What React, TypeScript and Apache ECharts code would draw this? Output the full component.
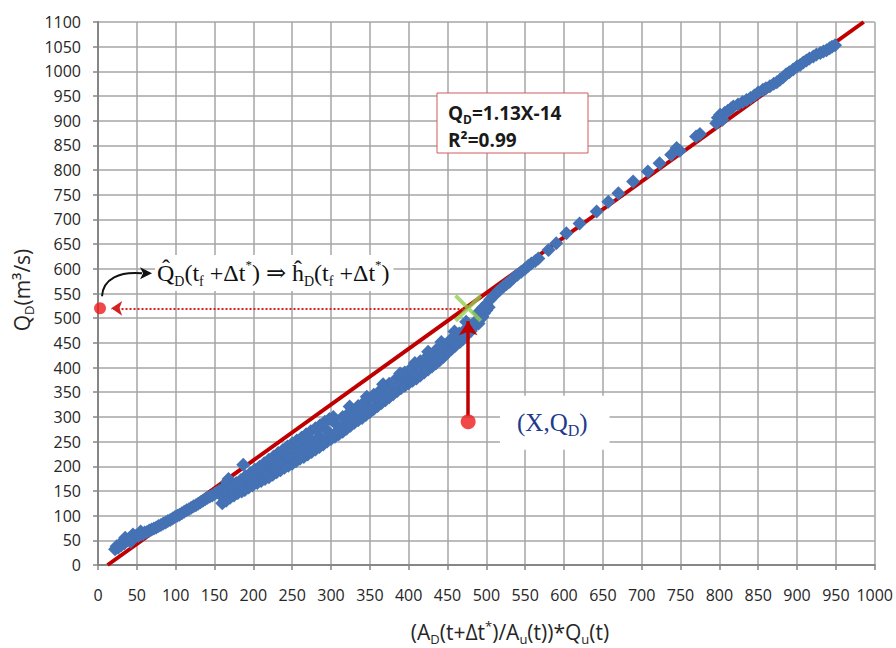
import React, { useEffect, useRef } from "react";
import * as echarts from "echarts";

// Axis ranges / ticks
const X_MIN = 0;
const X_MAX = 1000;
const X_STEP = 50;
const Y_MIN = 0;
const Y_MAX = 1100;
const Y_STEP = 50;

// Regression Q_D = 1.13 X - 14
const FIT_SLOPE = 1.13;
const FIT_INTERCEPT = -14;

// Observed points (X, Q_D), by portion of the cloud
const segLowerLeft: [number, number][] = [
  [22, 32], [24, 38], [26, 35], [28, 42], [30, 40], [32, 46], [34, 44], [35, 55], [36, 49], [38, 50],
  [40, 53], [42, 47], [42, 52], [44, 56], [45, 62], [46, 55], [48, 58], [50, 60], [52, 59], [55, 62],
  [55, 68], [58, 63], [60, 66], [63, 67], [66, 70], [69, 72], [72, 74], [75, 76], [78, 79], [81, 81],
  [84, 84], [87, 86], [90, 89], [93, 91], [96, 94], [99, 97], [102, 100], [105, 102], [108, 105], [111, 108],
  [114, 111], [117, 113], [120, 116], [123, 119], [126, 121], [129, 124], [132, 127], [135, 130], [138, 133],
  [141, 136], [144, 139], [147, 141], [150, 144], [153, 147], [156, 150], [159, 152],
];
const segBreak: [number, number][] = [
  [160, 125], [162, 135], [160, 145], [163, 150], [164, 158], [166, 168], [168, 174], [187, 203],
];
const segUpper: [number, number][] = [
  [172, 160], [178, 166], [184, 172], [190, 180], [196, 186], [202, 193], [208, 199], [214, 206], [220, 213],
  [226, 220], [232, 227], [238, 233], [244, 240], [250, 246], [256, 252], [262, 258], [268, 265], [274, 271],
  [280, 277], [286, 283], [292, 290], [298, 296], [303, 300], [324, 321], [346, 341], [367, 366], [389, 388],
  [408, 409], [425, 432], [442, 452], [459, 473], [474, 493], [490, 512],
];
const segMiddle: [number, number][] = [
  [175, 152], [185, 162], [195, 172], [205, 182], [215, 190], [225, 200], [235, 210], [245, 220], [255, 230],
  [265, 240], [275, 250], [285, 260], [295, 272], [305, 288], [315, 300], [325, 311], [335, 322], [345, 333],
  [355, 345], [365, 356], [375, 367], [385, 379], [395, 390], [405, 401], [415, 413], [425, 424], [435, 435],
  [445, 446], [455, 458], [465, 469], [475, 480], [485, 492], [495, 503],
];
const segMiddleLow: [number, number][] = [
  [180, 147], [190, 156], [200, 165], [210, 174], [220, 182], [230, 192], [240, 201], [250, 211], [260, 220],
  [270, 230], [280, 240], [290, 250], [300, 261], [310, 274], [320, 285], [330, 297], [340, 308], [350, 319],
  [360, 331], [370, 342], [380, 354], [390, 366], [400, 377], [410, 387], [420, 399], [430, 410], [440, 422],
  [450, 434], [460, 448], [470, 460], [480, 474], [490, 489],
];
const segLower: [number, number][] = [
  [165, 130], [170, 136], [175, 141], [180, 146], [185, 149], [189, 152], [194, 157], [199, 161], [205, 166],
  [210, 170], [215, 174], [220, 178], [225, 183], [230, 188], [235, 192], [240, 197], [245, 201], [250, 205],
  [255, 210], [260, 215], [265, 219], [270, 224], [275, 229], [280, 234], [285, 239], [290, 244], [295, 250],
  [300, 255], [305, 260], [310, 265], [315, 270], [320, 276], [325, 282], [330, 288], [335, 293], [340, 298],
  [345, 304], [350, 310], [355, 316], [360, 322], [365, 328], [370, 334], [375, 340], [380, 346], [385, 352],
  [390, 358], [395, 363], [400, 368], [405, 373], [410, 378], [415, 384], [420, 390], [425, 396], [430, 402],
  [435, 408], [440, 415], [445, 422], [450, 430], [455, 437], [460, 444], [466, 452], [470, 458], [474, 465],
  [478, 472], [482, 480], [486, 487], [490, 495], [494, 502], [497, 510], [500, 516], [503, 522],
];
const segUpperRight: [number, number][] = [
  [495, 520], [500, 528], [505, 538], [510, 546], [514, 553], [518, 558], [522, 564], [526, 569], [530, 574],
  [535, 582], [540, 588], [545, 594], [550, 600], [554, 606], [558, 611], [563, 616], [567, 621], [580, 638],
  [590, 652], [603, 672], [620, 692], [642, 716], [657, 736], [670, 753], [689, 777], [708, 797], [723, 814],
  [738, 831], [745, 845], [749, 839], [770, 868], [775, 873],
];
const segTop: [number, number][] = [
  [796, 895], [798, 906], [801, 912], [804, 902], [807, 916], [811, 920], [815, 925], [818, 929], [824, 933],
  [830, 938], [835, 942], [840, 946], [845, 951], [850, 957], [856, 963], [860, 966], [865, 970], [870, 975],
  [874, 978], [878, 983], [882, 988], [886, 994], [890, 998], [895, 1004], [900, 1010], [904, 1013], [908, 1018],
  [912, 1022], [916, 1026], [921, 1030], [925, 1034], [930, 1037], [934, 1040], [938, 1043], [942, 1047],
  [945, 1050], [949, 1053],
];

// Annotation points (data coordinates)
const estimatePoint: [number, number] = [476.6, 520]; // green cross
const inputPoint: [number, number] = [476.6, 290]; // (X, Q_D) red dot
const projectedPoint: [number, number] = [2.6, 520]; // red dot on the Q_D axis
const dottedArrowTipX = 17;
const verticalArrowTopY = 494;
const verticalArrowBottomY = 302;

const SANS = "'Open Sans', 'Noto Sans', sans-serif";
const SERIF = "'Liberation Serif', 'DejaVu Serif', serif";

export default function App() {
  const ref = useRef<HTMLDivElement>(null);

  useEffect(() => {
    const el = ref.current as HTMLDivElement;
    const chart = echarts.init(el, null, { renderer: "svg" });

    const observed = [
      ...segLowerLeft,
      ...segBreak,
      ...segLower,
      ...segMiddleLow,
      ...segMiddle,
      ...segUpper,
      ...segUpperRight,
      ...segTop,
    ];
    const fitX0 = (Y_MIN - FIT_INTERCEPT) / FIT_SLOPE;
    const fitX1 = (Y_MAX - FIT_INTERCEPT) / FIT_SLOPE;

    const axisLabel = {
      color: "#262626",
      fontFamily: SANS,
      fontSize: 16,
      formatter: (v: number) => String(v),
    };

    chart.setOption({
      animation: false,
      backgroundColor: "#ffffff",
      grid: { left: 98, right: 21, top: 22, bottom: 83 },
      xAxis: {
        type: "value",
        min: X_MIN,
        max: X_MAX,
        interval: X_STEP,
        axisLine: { show: true, onZero: false, lineStyle: { color: "#868686", width: 2 } },
        axisTick: { show: true, length: 5, lineStyle: { color: "#868686", width: 1.5 } },
        axisLabel: { ...axisLabel, margin: 22 },
        splitLine: { show: true, lineStyle: { color: "#a6a6a6", width: 1.5 } },
      },
      yAxis: {
        type: "value",
        min: Y_MIN,
        max: Y_MAX,
        interval: Y_STEP,
        axisLine: { show: true, onZero: false, lineStyle: { color: "#868686", width: 2 } },
        axisTick: { show: true, length: 5, lineStyle: { color: "#868686", width: 1.5 } },
        axisLabel: { ...axisLabel, margin: 17 },
        splitLine: { show: true, lineStyle: { color: "#a6a6a6", width: 1.5 } },
      },
      series: [
        {
          name: "fit",
          type: "line",
          data: [
            [fitX0, Y_MIN],
            [fitX1, Y_MAX],
          ],
          symbol: "none",
          lineStyle: { color: "#c00000", width: 4 },
          silent: true,
          z: 2,
        },
        {
          name: "observed",
          type: "scatter",
          data: observed,
          symbol: "diamond",
          symbolSize: 14,
          itemStyle: { color: "#4472b4", opacity: 1 },
          silent: true,
          z: 3,
        },
        {
          name: "arrows",
          type: "scatter",
          data: [
            { value: projectedPoint, symbolSize: 12 },
            { value: inputPoint, symbolSize: 15 },
          ],
          symbol: "circle",
          itemStyle: { color: "#ee1c1c" },
          silent: true,
          z: 5,
          markLine: {
            silent: true,
            animation: false,
            label: { show: false },
            emphasis: { disabled: true },
            symbol: ["none", "arrow"],
            data: [
              [
                {
                  coord: [estimatePoint[0] - 6, estimatePoint[1]],
                  symbol: "none",
                  lineStyle: { type: "dotted", width: 2, color: "#d42020" },
                },
                { coord: [dottedArrowTipX, estimatePoint[1]], symbol: "arrow", symbolSize: 11 },
              ],
              [
                {
                  coord: [inputPoint[0], verticalArrowBottomY],
                  symbol: "none",
                  lineStyle: { type: "solid", width: 3.5, color: "#c00000" },
                },
                { coord: [inputPoint[0], verticalArrowTopY], symbol: "arrow", symbolSize: 14 },
              ],
            ],
          },
        },
        {
          name: "estimate",
          type: "scatter",
          data: [estimatePoint],
          symbol:
            "path://M0,2 L2,0 L10,8 L18,0 L20,2 L12,10 L20,18 L18,20 L10,12 L2,20 L0,18 L8,10 Z",
          symbolSize: 28,
          itemStyle: { color: "#92d050" },
          silent: true,
          z: 6,
        },
      ],
    });

    const toPx = (p: [number, number]) =>
      chart.convertToPixel({ gridIndex: 0 }, p) as unknown as number[];
    const d = toPx(projectedPoint);
    const inp = toPx(inputPoint);

    const sub = (size: number, family: string, color: string, weight = "normal") => ({
      fontSize: size,
      fontFamily: family,
      fill: color,
      color,
      fontWeight: weight,
      lineHeight: size,
      verticalAlign: "bottom",
    });
    const sup = (size: number, family: string, color: string, weight = "normal") => ({
      fontSize: size,
      fontFamily: family,
      fill: color,
      color,
      fontWeight: weight,
      lineHeight: size,
      verticalAlign: "top",
    });
    const main = (size: number, family: string, color: string, lh: number, weight = "normal") => ({
      fontSize: size,
      fontFamily: family,
      fill: color,
      color,
      fontWeight: weight,
      lineHeight: lh,
      verticalAlign: "middle",
    });

    chart.setOption({
      graphic: [
        // y axis name
        {
          type: "text",
          x: 22,
          y: 290,
          rotation: Math.PI / 2,
          silent: true,
          style: {
            text: "{n|Q}{s|D}{n|(m³/s)}",
            align: "center",
            verticalAlign: "middle",
            textAlign: "center",
            textVerticalAlign: "middle",
            rich: {
              n: main(21, SANS, "#262626", 26),
              s: sub(13, SANS, "#262626"),
            },
          },
        },
        // x axis name
        {
          type: "text",
          x: 510,
          y: 632,
          silent: true,
          style: {
            text: "{n|(A}{s|D}{n|(t+Δt}{p|*}{n|)/A}{s|u}{n|(t))*Q}{s|u}{n|(t)}",
            align: "center",
            verticalAlign: "middle",
            textAlign: "center",
            textVerticalAlign: "middle",
            rich: {
              n: main(21, SANS, "#262626", 26),
              s: sub(13, SANS, "#262626"),
              p: sup(13, SANS, "#262626"),
            },
          },
        },
        // regression box frame
        {
          type: "rect",
          silent: true,
          z: 10,
          shape: { x: 437, y: 93, width: 151, height: 60 },
          style: { fill: "#ffffff", stroke: "#d05a5a", lineWidth: 1 },
        },
        {
          type: "text",
          x: 448,
          y: 113,
          silent: true,
          z: 11,
          style: {
            text: "{b|Q}{s|D}{b|=1.13X-14}",
            align: "left",
            verticalAlign: "middle",
            textAlign: "left",
            textVerticalAlign: "middle",
            rich: {
              b: main(19, SANS, "#1a1a1a", 24, "bold"),
              s: sub(12, SANS, "#1a1a1a", "bold"),
            },
          },
        },
        {
          type: "text",
          x: 448,
          y: 140,
          silent: true,
          z: 11,
          style: {
            text: "R²=0.99",
            align: "left",
            verticalAlign: "middle",
            textAlign: "left",
            textVerticalAlign: "middle",
            fontSize: 19,
            fontFamily: SANS,
            fontWeight: "bold",
            fill: "#1a1a1a",
          },
        },
        // formula text
        {
          type: "text",
          x: 155,
          y: 273,
          silent: true,
          z: 10,
          style: {
            text:
              "{m|Q\u0302}{s|D}{m|(t}{s|f}{m| +Δt}{p|*}{m|) ⇒ ĥ}{s|D}{m|(t}{s|f}{m| +Δt}{p|*}{m|)}",
            align: "left",
            verticalAlign: "middle",
            textAlign: "left",
            textVerticalAlign: "middle",
            backgroundColor: "#ffffff",
            padding: [3, 4, 3, 2],
            rich: {
              m: main(24, SERIF, "#111111", 30),
              s: sub(14, SERIF, "#111111"),
              p: sup(13, SERIF, "#111111"),
            },
          },
        },
        // (X,Q_D) label
        {
          type: "text",
          x: 500,
          y: inp[1] + 1,
          silent: true,
          z: 10,
          style: {
            text: "{m|(X,Q}{s|D}{m|)}",
            align: "left",
            verticalAlign: "middle",
            textAlign: "left",
            textVerticalAlign: "middle",
            backgroundColor: "#ffffff",
            padding: [11, 22, 11, 17],
            rich: {
              m: main(25, SERIF, "#233a8c", 32),
              s: sub(16, SERIF, "#233a8c"),
            },
          },
        },
        // curved black arrow from the projected dot to the formula
        {
          type: "bezierCurve",
          silent: true,
          z: 11,
          shape: {
            x1: d[0] + 2,
            y1: d[1] - 12,
            cpx1: d[0] + 3,
            cpy1: d[1] - 30,
            cpx2: d[0] + 20,
            cpy2: d[1] - 37,
            x2: d[0] + 42,
            y2: d[1] - 35,
          },
          style: { stroke: "#111111", lineWidth: 2, fill: "none" },
        },
        {
          type: "polygon",
          silent: true,
          z: 11,
          shape: {
            points: [
              [d[0] + 52, d[1] - 35],
              [d[0] + 40, d[1] - 41],
              [d[0] + 43, d[1] - 35],
              [d[0] + 40, d[1] - 29],
            ],
          },
          style: { fill: "#111111" },
        },
      ],
    });

    return () => {
      chart.dispose();
    };
  }, []);

  return (
    <div
      ref={ref}
      style={{ position: "fixed", left: 0, top: 0, width: 896, height: 648, background: "#fff" }}
    />
  );
}
